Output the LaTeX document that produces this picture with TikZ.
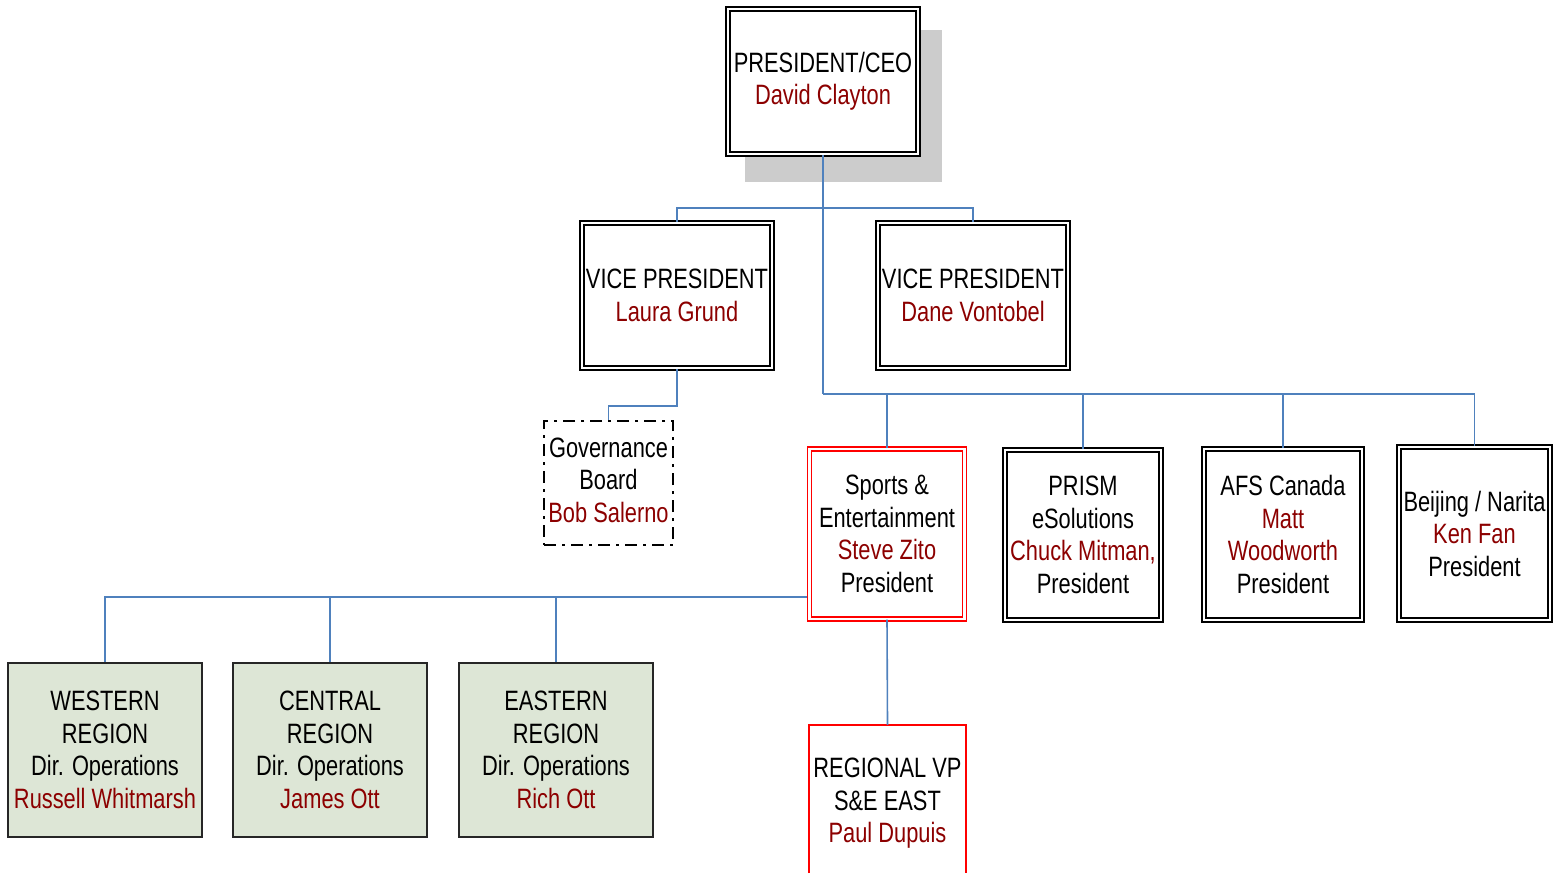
\documentclass[tikz,border=0pt]{standalone}
\usepackage{fontspec}
\setmainfont{Liberation Sans}[FakeStretch=0.78]
\begin{document}
\definecolor{namered}{RGB}{140,0,0}
\definecolor{linkblue}{RGB}{79,129,189}
\definecolor{boxred}{RGB}{255,0,0}
\definecolor{shadowgray}{RGB}{204,204,204}
\definecolor{regionfill}{RGB}{221,230,214}
\newcommand{\nm}[1]{\textcolor{namered}{#1}}
\begin{tikzpicture}[x=1pt,y=-1pt,
  every node/.style={font=\fontsize{28}{32.5}\selectfont, align=center, inner sep=0pt},
  dbox/.style={draw=black, line width=1.6pt, double=white, double distance=2.4pt},
  redbox/.style={draw=boxred, line width=1.3pt, double=white, double distance=2.6pt},
  govbox/.style={draw=black, line width=2.6pt, dash pattern=on 12pt off 6pt on 3pt off 6pt},
  regionbox/.style={draw=black!85, line width=1.8pt, fill=regionfill},
  conn/.style={draw=linkblue, line width=1.6pt},
]
\useasboundingbox (0,0) rectangle (1554,873);

% shadow behind the top box
\fill[shadowgray] (745,30) rectangle (942,182);

% top level
\node[dbox, fill=white, minimum width=190pt, minimum height=145pt] (ceo) at (823,81.5)
  {PRESIDENT/CEO\\\nm{David Clayton}};

% vice presidents
\node[dbox, minimum width=190pt, minimum height=145pt] (vpl) at (677,295.5)
  {VICE PRESIDENT\\\nm{Laura Grund}};
\node[dbox, minimum width=190pt, minimum height=145pt] (vpd) at (973,295.5)
  {VICE PRESIDENT\\\nm{Dane Vontobel}};

% governance board
\node[govbox, minimum width=129pt, minimum height=124pt] (gov) at (608.5,483)
  {\raisebox{2pt}{\begin{tabular}{@{}c@{}}Governance\\Board\\\nm{Bob Salerno}\end{tabular}}};

% business units
\node[redbox, minimum width=155pt, minimum height=170pt] (sports) at (887,534)
  {Sports \&\\Entertainment\\\nm{Steve Zito}\\President};
\node[dbox, minimum width=156pt, minimum height=170pt] (prism) at (1083,535)
  {PRISM\\eSolutions\\\nm{Chuck Mitman,}\\President};
\node[dbox, minimum width=158pt, minimum height=171pt] (afs) at (1283,534.5)
  {AFS Canada\\\nm{Matt}\\\nm{Woodworth}\\President};
\node[dbox, minimum width=151pt, minimum height=173pt] (bei) at (1474.5,533.5)
  {Beijing / Narita\\\nm{Ken Fan}\\President};

% regions
\node[regionbox, minimum width=194pt, minimum height=174pt] (west) at (105,750)
  {WESTERN\\REGION\\Dir. Operations\\\nm{Russell Whitmarsh}};
\node[regionbox, minimum width=194pt, minimum height=174pt] (cent) at (330,750)
  {CENTRAL\\REGION\\Dir. Operations\\\nm{James Ott}};
\node[regionbox, minimum width=194pt, minimum height=174pt] (east) at (556,750)
  {EASTERN\\REGION\\Dir. Operations\\\nm{Rich Ott}};

% regional VP (box runs off the bottom edge)
\node[minimum width=157pt, minimum height=148pt] (reg) at (887.5,799)
  {\\[-4pt]REGIONAL VP\\S\&E EAST\\\nm{Paul Dupuis}};
\draw[draw=boxred, line width=1.5pt] (reg.south west) -- (reg.north west) -- (reg.north east) -- (reg.south east);

% connectors
\coordinate (j1) at (823,208);
\coordinate (j2) at (823,394);
\coordinate (j3) at (677,406);
\coordinate (j4) at (807,597);

\draw[conn] (ceo.south) -- (j2);
\draw[conn] (vpl.north) |- (j1) -| (vpd.north);
\draw[conn] (j2) -| (bei.north);
\draw[conn] (sports.north) -- (sports.north |- j2);
\draw[conn] (prism.north) -- (prism.north |- j2);
\draw[conn] (afs.north) -- (afs.north |- j2);
\draw[conn] (vpl.south) -- (j3) -| (gov.north);
\draw[conn] (j4) -| (west.north);
\draw[conn] (cent.north) -- (cent.north |- j4);
\draw[conn] (east.north) -- (east.north |- j4);
\draw[conn] (sports.south) -- (reg.north);
\end{tikzpicture}
\end{document}
